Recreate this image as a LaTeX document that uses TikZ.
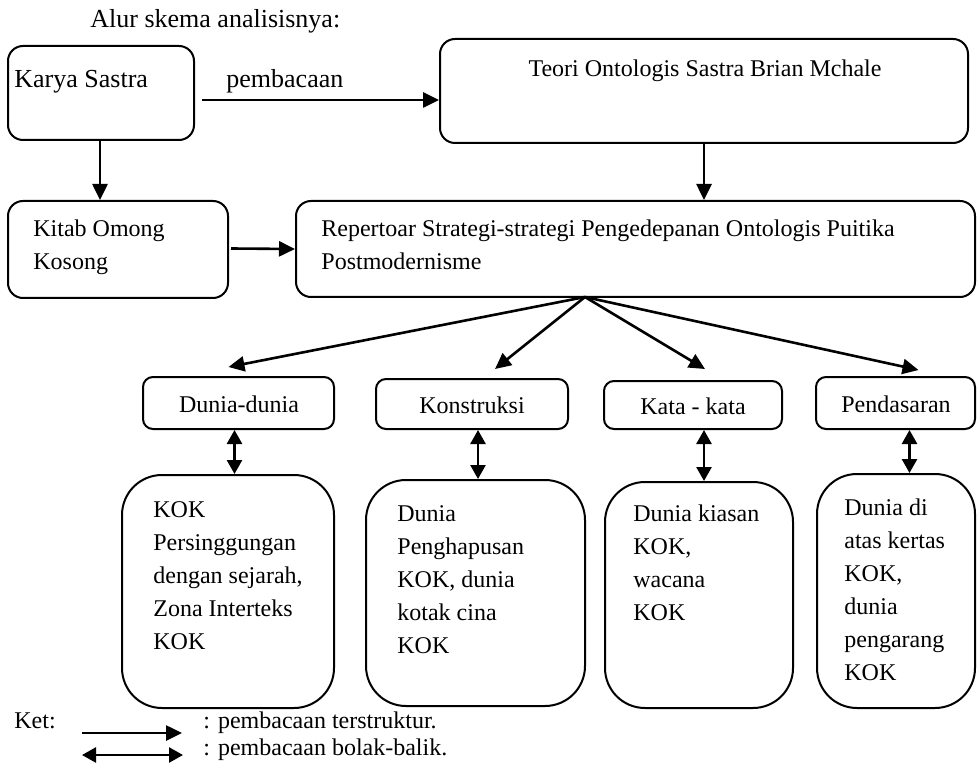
\documentclass[tikz,border=0pt]{standalone}
\usepackage{fontspec}
\setmainfont{Liberation Serif}
\usetikzlibrary{arrows.meta}

\tikzset{
  box/.style={draw, line width=1pt, rounded corners=7.5pt},
  smallbox/.style={draw, line width=1pt, rounded corners=5pt},
  bigbox/.style={draw, line width=1pt, rounded corners=20pt},
  txt/.style={anchor=base west, inner sep=0pt},
  big/.style={font=\fontsize{13}{16.5}\selectfont},
  arr/.style={line width=1.3pt, -{Triangle[length=8pt,width=7.5pt]}},
  darr/.style={line width=1.3pt, {Triangle[length=7pt,width=7.5pt]}-{Triangle[length=7pt,width=7.5pt]}}
}
\newcommand{\lines}[1]{\begin{tabular}[t]{@{}l@{}}#1\end{tabular}}

\begin{document}
\begin{tikzpicture}[x=0.5pt, y=-0.5pt, font=\fontsize{12}{16.5}\selectfont]
        \useasboundingbox (0,0) rectangle (978,764);
        \node[txt, big] (title) at (90,28) {Alur skema analisisnya:};

        % top row
        \node[box, minimum width=93pt, minimum height=47pt] (karya) at (101,93) {};
        \node[txt, big] (karyatxt) at (14,88) {Karya Sastra};
        \node[box, minimum width=264pt, minimum height=52pt] (teori) at (704,91) {};
        \node[anchor=base, inner sep=0pt] (teoritxt) at (705,77) {Teori Ontologis Sastra Brian Mchale};
        \coordinate (baca) at (202,100);
        \draw[arr] (baca) -- (baca -| teori.west);
        \node[txt, big] (bacatxt) at (226,88) {pembacaan};

        % second row
        \node[box, minimum width=110pt, minimum height=48.5pt] (kitab) at (118,249.5) {};
        \node[txt] (kitabtxt) at (33,237) {\lines{Kitab Omong\\Kosong}};
        \node[box, minimum width=339.5pt, minimum height=48pt] (rep) at (635.5,249) {};
        \node[txt] (reptxt) at (321,237) {\lines{Repertoar Strategi-strategi Pengedepanan Ontologis Puitika\\Postmodernisme}};
        \draw[arr] (100,140) -- (100,200);
        \draw[arr] (kitab.east) ++(2,-1) -- (rep.west);
        \draw[arr] (teori.south) -- (teori.south |- rep.north);

        % four strategies
        \node[smallbox, minimum width=95.5pt, minimum height=26pt] (dunia) at (238.5,403) {};
        \node[anchor=base, inner sep=0pt] (duniatxt) at (239,412) {Dunia-dunia};
        \node[smallbox, minimum width=96pt, minimum height=25pt] (kons) at (472,404) {};
        \node[anchor=base, inner sep=0pt] (konstxt) at (472,413) {Konstruksi};
        \node[smallbox, minimum width=89pt, minimum height=24pt] (kata) at (693,405) {};
        \node[anchor=base, inner sep=0pt] (katatxt) at (693,414) {Kata - kata};
        \node[smallbox, minimum width=79.5pt, minimum height=26pt] (pend) at (895.5,403) {};
        \node[anchor=base, inner sep=0pt] (pendtxt) at (896,412) {Pendasaran};

        \coordinate (fan) at (585,297);
        \draw[arr] (fan) -- ([xshift=-5pt, yshift=4.5pt]dunia.north);
        \draw[arr] (fan) -- ([xshift=11.5pt, yshift=4.5pt]kons.north);
        \draw[arr] (fan) -- ([xshift=6pt, yshift=5.5pt]kata.north);
        \draw[arr] (fan) -- ([xshift=11.5pt, yshift=3pt]pend.north);

        % KOK boxes
        \node[bigbox, minimum width=106pt, minimum height=116.5pt] (kok1) at (228,591.5) {};
        \node[txt] (kok1txt) at (153,517) {\lines{KOK\\Persinggungan\\dengan sejarah,\\Zona Interteks\\KOK}};
        \node[bigbox, minimum width=109.5pt, minimum height=113pt] (kok2) at (475.5,593) {};
        \node[txt] (kok2txt) at (397,521) {\lines{Dunia\\Penghapusan\\KOK, dunia\\kotak cina\\KOK}};
        \node[bigbox, minimum width=94pt, minimum height=113pt] (kok3) at (699,595) {};
        \node[txt] (kok3txt) at (633,521) {\lines{Dunia kiasan\\KOK,\\wacana\\KOK}};
        \node[bigbox, minimum width=79pt, minimum height=117pt] (kok4) at (896,591) {};
        \node[txt] (kok4txt) at (844,515) {\lines{Dunia di\\atas kertas\\KOK,\\dunia\\pengarang\\KOK}};

        \draw[darr] ([xshift=-2pt]dunia.south) -- ([xshift=-2pt]dunia.south |- kok1.north);
        \draw[darr] ([xshift=3pt]kons.south) -- ([xshift=3pt]kons.south |- kok2.north);
        \draw[darr] ([xshift=5.5pt]kata.south) -- ([xshift=5.5pt]kata.south |- kok3.north);
        \draw[darr] ([xshift=7pt]pend.south) -- ([xshift=7pt]pend.south |- kok4.north);

        % Ket
        \node[txt] (ket) at (14,728) {Ket:};
        \coordinate (k1) at (82,733);
        \coordinate (k2) at (82,755);
        \draw[arr] (k1) -- ++(100,0);
        \draw[darr] (k2) -- ++(101,0);
        \node[txt] (ket1) at (203,728) {: pembacaan terstruktur.};
        \node[txt] (ket2) at (203,755) {: pembacaan bolak-balik.};
    \end{tikzpicture}
\end{document}
